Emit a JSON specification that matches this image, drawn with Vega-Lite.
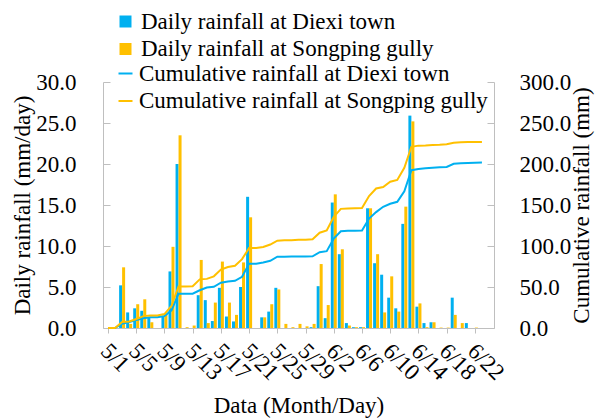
{
  "$schema": "https://vega.github.io/schema/vega-lite/v6.json",
  "width": 391,
  "height": 246,
  "autosize": "none",
  "padding": {"left": 103, "top": 82, "right": 101, "bottom": 91},
  "background": "white",
  "config": {
    "font": "'Liberation Serif', 'DejaVu Serif', serif",
    "view": {"stroke": null},
    "axis": {
      "domainColor": "#bfbfbf",
      "tickColor": "#bfbfbf",
      "labelFont": "'Liberation Serif', 'DejaVu Serif', serif",
      "labelFontSize": 23,
      "labelColor": "black",
      "titleFont": "'Liberation Serif', 'DejaVu Serif', serif",
      "titleFontSize": 23,
      "titleFontWeight": "normal",
      "titleColor": "black",
      "grid": false
    },
    "legend": {
      "labelFont": "'Liberation Serif', 'DejaVu Serif', serif",
      "labelFontSize": 23,
      "labelColor": "black",
      "labelLimit": 0
    }
  },
  "data": {
    "values": [
      {"date": "2017-05-01", "diexi": 0, "songping": 0, "cumDiexi": 0, "cumSongping": 0},
      {"date": "2017-05-02", "diexi": 0, "songping": 0, "cumDiexi": 0, "cumSongping": 0},
      {"date": "2017-05-03", "diexi": 5.2, "songping": 7.4, "cumDiexi": 5.2, "cumSongping": 7.4},
      {"date": "2017-05-04", "diexi": 1.9, "songping": 0.5, "cumDiexi": 7.2, "cumSongping": 7.9},
      {"date": "2017-05-05", "diexi": 2.4, "songping": 2.9, "cumDiexi": 9.6, "cumSongping": 10.9},
      {"date": "2017-05-06", "diexi": 2.1, "songping": 3.5, "cumDiexi": 11.8, "cumSongping": 14.5},
      {"date": "2017-05-07", "diexi": 1.3, "songping": 0.7, "cumDiexi": 13.1, "cumSongping": 15.2},
      {"date": "2017-05-08", "diexi": 0, "songping": 0, "cumDiexi": 13.1, "cumSongping": 15.2},
      {"date": "2017-05-09", "diexi": 1.4, "songping": 1.7, "cumDiexi": 14.6, "cumSongping": 17.0},
      {"date": "2017-05-10", "diexi": 6.9, "songping": 9.9, "cumDiexi": 21.6, "cumSongping": 27.0},
      {"date": "2017-05-11", "diexi": 20.0, "songping": 23.5, "cumDiexi": 41.9, "cumSongping": 50.6},
      {"date": "2017-05-12", "diexi": 0, "songping": 0.1, "cumDiexi": 41.9, "cumSongping": 50.7},
      {"date": "2017-05-13", "diexi": 0, "songping": 0.3, "cumDiexi": 41.9, "cumSongping": 51.0},
      {"date": "2017-05-14", "diexi": 4.0, "songping": 8.3, "cumDiexi": 46.0, "cumSongping": 59.3},
      {"date": "2017-05-15", "diexi": 3.4, "songping": 0.6, "cumDiexi": 49.4, "cumSongping": 59.9},
      {"date": "2017-05-16", "diexi": 0.85, "songping": 3.1, "cumDiexi": 50.3, "cumSongping": 63.0},
      {"date": "2017-05-17", "diexi": 4.9, "songping": 8.1, "cumDiexi": 55.3, "cumSongping": 71.2},
      {"date": "2017-05-18", "diexi": 1.4, "songping": 3.1, "cumDiexi": 56.7, "cumSongping": 74.3},
      {"date": "2017-05-19", "diexi": 0.8, "songping": 1.6, "cumDiexi": 57.5, "cumSongping": 75.9},
      {"date": "2017-05-20", "diexi": 5.0, "songping": 8.0, "cumDiexi": 62.5, "cumSongping": 84.0},
      {"date": "2017-05-21", "diexi": 16.0, "songping": 13.5, "cumDiexi": 78.5, "cumSongping": 97.6},
      {"date": "2017-05-22", "diexi": 0, "songping": 0, "cumDiexi": 78.5, "cumSongping": 97.6},
      {"date": "2017-05-23", "diexi": 1.3, "songping": 1.3, "cumDiexi": 79.9, "cumSongping": 98.9},
      {"date": "2017-05-24", "diexi": 2.0, "songping": 2.9, "cumDiexi": 81.9, "cumSongping": 101.8},
      {"date": "2017-05-25", "diexi": 4.9, "songping": 4.7, "cumDiexi": 86.9, "cumSongping": 106.5},
      {"date": "2017-05-26", "diexi": 0, "songping": 0.5, "cumDiexi": 87.0, "cumSongping": 106.9},
      {"date": "2017-05-27", "diexi": 0, "songping": 0.1, "cumDiexi": 87.1, "cumSongping": 107.0},
      {"date": "2017-05-28", "diexi": 0, "songping": 0.5, "cumDiexi": 87.2, "cumSongping": 107.5},
      {"date": "2017-05-29", "diexi": 0, "songping": 0.2, "cumDiexi": 87.3, "cumSongping": 107.7},
      {"date": "2017-05-30", "diexi": 0.1, "songping": 0.5, "cumDiexi": 87.4, "cumSongping": 108.2},
      {"date": "2017-05-31", "diexi": 5.1, "songping": 7.8, "cumDiexi": 92.5, "cumSongping": 116.2},
      {"date": "2017-06-01", "diexi": 1.2, "songping": 2.8, "cumDiexi": 93.7, "cumSongping": 119.0},
      {"date": "2017-06-02", "diexi": 15.3, "songping": 16.3, "cumDiexi": 109.0, "cumSongping": 135.5},
      {"date": "2017-06-03", "diexi": 9.0, "songping": 9.6, "cumDiexi": 118.0, "cumSongping": 145.3},
      {"date": "2017-06-04", "diexi": 0.6, "songping": 0.3, "cumDiexi": 118.6, "cumSongping": 145.8},
      {"date": "2017-06-05", "diexi": 0.1, "songping": 0.1, "cumDiexi": 118.7, "cumSongping": 146.0},
      {"date": "2017-06-06", "diexi": 0.1, "songping": 0.1, "cumDiexi": 118.8, "cumSongping": 146.3},
      {"date": "2017-06-07", "diexi": 14.6, "songping": 14.6, "cumDiexi": 133.4, "cumSongping": 161.0},
      {"date": "2017-06-08", "diexi": 7.9, "songping": 9.0, "cumDiexi": 141.3, "cumSongping": 170.1},
      {"date": "2017-06-09", "diexi": 6.5, "songping": 1.9, "cumDiexi": 147.8, "cumSongping": 172.0},
      {"date": "2017-06-10", "diexi": 3.7, "songping": 6.3, "cumDiexi": 151.5, "cumSongping": 178.4},
      {"date": "2017-06-11", "diexi": 2.4, "songping": 2.0, "cumDiexi": 153.9, "cumSongping": 180.5},
      {"date": "2017-06-12", "diexi": 12.7, "songping": 14.8, "cumDiexi": 166.6, "cumSongping": 195.4},
      {"date": "2017-06-13", "diexi": 25.9, "songping": 25.2, "cumDiexi": 192.4, "cumSongping": 221.0},
      {"date": "2017-06-14", "diexi": 2.6, "songping": 3.0, "cumDiexi": 194.0, "cumSongping": 222.4},
      {"date": "2017-06-15", "diexi": 0.6, "songping": 0.1, "cumDiexi": 194.8, "cumSongping": 222.6},
      {"date": "2017-06-16", "diexi": 0.7, "songping": 0.7, "cumDiexi": 195.5, "cumSongping": 223.3},
      {"date": "2017-06-17", "diexi": 0, "songping": 0.05, "cumDiexi": 195.9, "cumSongping": 223.5},
      {"date": "2017-06-18", "diexi": 0, "songping": 0.05, "cumDiexi": 196.3, "cumSongping": 224.0},
      {"date": "2017-06-19", "diexi": 3.7, "songping": 1.6, "cumDiexi": 200.2, "cumSongping": 226.0},
      {"date": "2017-06-20", "diexi": 0, "songping": 0.6, "cumDiexi": 200.8, "cumSongping": 226.6},
      {"date": "2017-06-21", "diexi": 0.6, "songping": 0, "cumDiexi": 201.3, "cumSongping": 226.7},
      {"date": "2017-06-22", "diexi": 0, "songping": 0.05, "cumDiexi": 201.6, "cumSongping": 226.8},
      {"date": "2017-06-23", "diexi": 0, "songping": 0, "cumDiexi": 201.7, "cumSongping": 226.8}
    ]
  },
  "encoding": {
    "x": {
      "field": "date",
      "type": "temporal",
      "scale": {
        "type": "utc",
        "domain": [
          {"year": 2017, "month": 5, "date": 1, "utc": true},
          {"year": 2017, "month": 6, "date": 24, "utc": true}
        ]
      },
      "axis": {
        "title": "Data (Month/Day)",
        "values": [
          {"year": 2017, "month": 5, "date": 1, "utc": true},
          {"year": 2017, "month": 5, "date": 5, "utc": true},
          {"year": 2017, "month": 5, "date": 9, "utc": true},
          {"year": 2017, "month": 5, "date": 13, "utc": true},
          {"year": 2017, "month": 5, "date": 17, "utc": true},
          {"year": 2017, "month": 5, "date": 21, "utc": true},
          {"year": 2017, "month": 5, "date": 25, "utc": true},
          {"year": 2017, "month": 5, "date": 29, "utc": true},
          {"year": 2017, "month": 6, "date": 2, "utc": true},
          {"year": 2017, "month": 6, "date": 6, "utc": true},
          {"year": 2017, "month": 6, "date": 10, "utc": true},
          {"year": 2017, "month": 6, "date": 14, "utc": true},
          {"year": 2017, "month": 6, "date": 18, "utc": true},
          {"year": 2017, "month": 6, "date": 22, "utc": true}
        ],
        "labelExpr": "utcFormat(datum.value, '%-m/%-d')",
        "labelAngle": 45,
        "labelAlign": "left",
        "labelBaseline": "middle",
        "labelPadding": 14,
        "labelOffset": -4,
        "labelOverlap": false,
        "labelFlush": false,
        "tickSize": 5,
        "titleY": 84.5,
        "titleBaseline": "alphabetic"
      }
    }
  },
  "layer": [
    {
      "layer": [
        {
          "mark": {"type": "bar", "width": 3, "xOffset": -1.5},
          "encoding": {
            "y": {
              "field": "diexi",
              "type": "quantitative",
              "scale": {"domain": [0, 30], "nice": false},
              "axis": {
                "orient": "left",
                "title": "Daily rainfall (mm/day)",
                "values": [0, 5, 10, 15, 20, 25, 30],
                "format": ".1f",
                "tickSize": -7,
                "labelPadding": 34,
                "titleAngle": 270,
                "titleX": -74,
                "titleBaseline": "alphabetic"
              }
            },
            "color": {
              "datum": "Daily rainfall at Diexi town",
              "scale": {
                "domain": ["Daily rainfall at Diexi town", "Daily rainfall at Songping gully"],
                "range": ["#00b0f0", "#ffc000"]
              },
              "legend": {
                "orient": "none",
                "legendX": 11,
                "legendY": -72,
                "direction": "vertical",
                "title": null,
                "symbolType": "square",
                "symbolSize": 144,
                "symbolStrokeWidth": 0,
                "rowPadding": 3.5,
                "labelOffset": 4,
                "labelLimit": 0,
                "padding": 0
              }
            }
          }
        },
        {
          "mark": {"type": "bar", "width": 3, "xOffset": 1.5},
          "encoding": {
            "y": {
              "field": "songping",
              "type": "quantitative",
              "scale": {"domain": [0, 30], "nice": false}
            },
            "color": {"datum": "Daily rainfall at Songping gully"}
          }
        }
      ]
    },
    {
      "layer": [
        {
          "mark": {"type": "line", "strokeWidth": 2},
          "encoding": {
            "y": {
              "field": "cumDiexi",
              "type": "quantitative",
              "scale": {"domain": [0, 300], "nice": false},
              "axis": {
                "orient": "right",
                "title": "Cumulative rainfall (mm)",
                "values": [0, 50, 100, 150, 200, 250, 300],
                "format": ".1f",
                "tickSize": -7,
                "labelPadding": 32,
                "titleAngle": 270,
                "titleX": 94,
                "titleBaseline": "alphabetic"
              }
            },
            "color": {
              "datum": "Cumulative rainfall at Diexi town",
              "scale": {
                "domain": ["Cumulative rainfall at Diexi town", "Cumulative rainfall at Songping gully"],
                "range": ["#00b0f0", "#ffc000"]
              },
              "legend": {
                "orient": "none",
                "legendX": 11,
                "legendY": -20,
                "direction": "vertical",
                "title": null,
                "symbolType": "stroke",
                "symbolSize": 196,
                "symbolStrokeWidth": 2,
                "rowPadding": 3.5,
                "labelOffset": 2,
                "labelLimit": 0,
                "padding": 0
              }
            }
          }
        },
        {
          "mark": {"type": "line", "strokeWidth": 2},
          "encoding": {
            "y": {
              "field": "cumSongping",
              "type": "quantitative",
              "scale": {"domain": [0, 300], "nice": false}
            },
            "color": {"datum": "Cumulative rainfall at Songping gully"}
          }
        }
      ]
    }
  ],
  "resolve": {"scale": {"y": "independent", "color": "independent"}}
}
